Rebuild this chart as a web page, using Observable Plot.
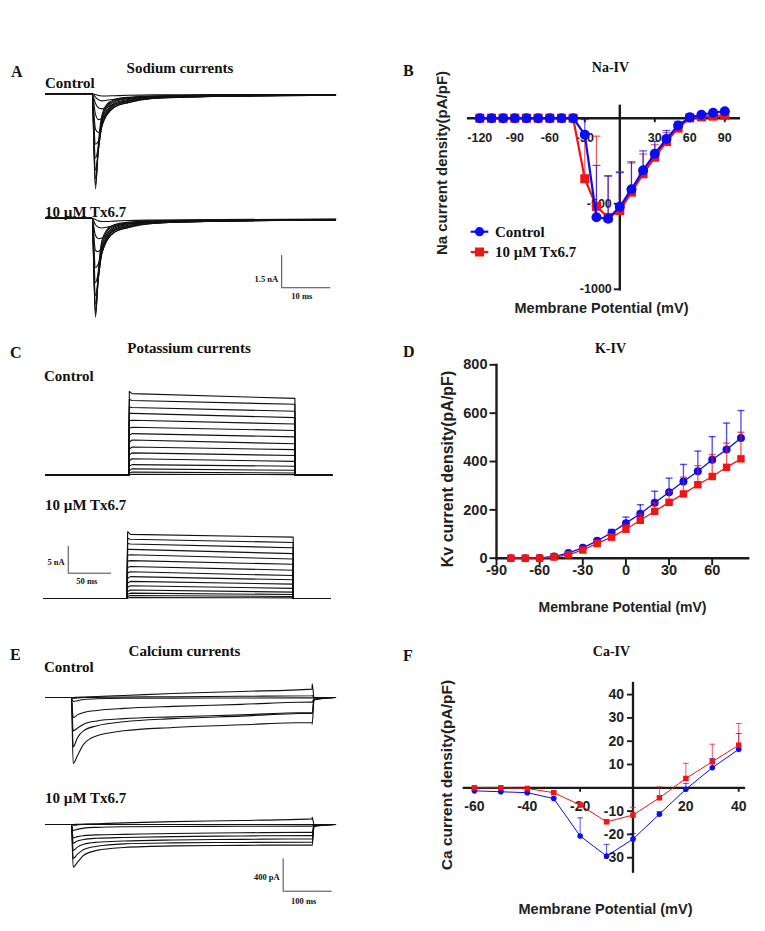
<!DOCTYPE html>
<html><head><meta charset="utf-8">
<script src="https://cdn.jsdelivr.net/npm/d3@7"></script>
<script src="https://cdn.jsdelivr.net/npm/@observablehq/plot@0.6"></script>
<style>
html,body{margin:0;padding:0;background:#fff;}
#fig{position:relative;width:765px;height:931px;overflow:hidden;background:#fff;}
</style></head>
<body><div id="fig"></div>
<script>
// ===================== DATA =====================
// --- B: Na I-V (pA/pF) ---
const naVoltage = [-120,-110,-100,-90,-80,-70,-60,-50,-40,-30,-20,-10,0,10,20,30,40,50,60,70,80,90];
const naControl    = [0,0,0,0,0,0,0,0,0,-96,-579,-588,-518,-415,-304,-208,-121,-43,5,20,32,41];
const naControlSem = [0,0,0,0,0,0,0,0,0,88,303,249,200,160,113,72,49,24,5,5,5,5];
const naTx         = [0,0,0,0,0,0,0,0,0,-354,-515,-580,-540,-432,-325,-228,-137,-58,2,8,12,18];
const naTxSem      = [0,0,0,0,0,0,0,0,0,250,410,245,228,170,116,73,52,25,4,4,4,4];
const naXTicks = [-120,-90,-60,-30,30,60,90];
const naYTicks = [-500,-1000];

// --- D: K I-V (pA/pF) ---
const kVoltage = [-80,-70,-60,-50,-40,-30,-20,-10,0,10,20,30,40,50,60,70,80];
const kControl    = [0,0,1,7,22,43,72,105,145,184,229,273,317,360,407,450,497];
const kControlSem = [0,0,0,1,3,5,8,14,25,37,48,58,71,83,96,109,114];
const kTx         = [0,0,0,5,14,34,61,87,120,157,194,231,266,304,338,376,411];
const kTxSem      = [0,0,0,1,2,4,6,10,18,25,35,45,69,79,91,100,110];
const kXTicks = [-90,-60,-30,0,30,60];
const kYTicks = [0,200,400,600,800];

// --- F: Ca I-V (pA/pF) ---
const caVoltage = [-60,-50,-40,-30,-20,-10,0,10,20,30,40];
const caControl    = [-1.3,-1.7,-2.1,-4.6,-20.7,-29.3,-22.0,-11.3,-0.6,8.6,16.5];
const caControlSem = [0.3,0.3,0.3,0.5,7.8,5.0,2.4,1.0,2.5,4.0,6.8];
const caTx         = [0,0,-0.3,-2.1,-7.4,-14.6,-11.7,-4.3,4.0,11.2,18.3];
const caTxSem      = [0.2,0.2,0.2,0.4,1.0,1.0,3.3,4.7,6.5,7.5,9.3];
const caXTicks = [-60,-40,-20,20,40];
const caXTickMarks = [-60,-40,-20,0,20,40];
const caYTicks = [-30,-20,-10,10,20,30,40];

// --- A: sodium current traces (ms, nA) ---
const naTraceTime = [0,9.5,10.2,10.8,11.5,12.5,14,17,22,35,59.2];
const naTracesControl = [
  [0,0,-4.42,-2.3,-1.0,-0.5,-0.28,-0.16,-0.1,-0.06,-0.03],
  [0,0,-4.25,-2.5,-1.15,-0.58,-0.32,-0.19,-0.12,-0.07,-0.04],
  [0,0,-3.95,-2.6,-1.3,-0.68,-0.38,-0.22,-0.13,-0.08,-0.05],
  [0,0,-3.55,-2.6,-1.42,-0.78,-0.44,-0.26,-0.15,-0.09,-0.05],
  [0,0,-3.0,-2.45,-1.5,-0.88,-0.5,-0.3,-0.17,-0.1,-0.06],
  [0,0,-2.35,-2.2,-1.52,-0.95,-0.56,-0.35,-0.19,-0.11,-0.06],
  [0,0,-1.65,-1.8,-1.45,-1.0,-0.64,-0.4,-0.21,-0.12,-0.07],
  [0,0,-0.95,-1.2,-1.15,-0.9,-0.62,-0.4,-0.22,-0.12,-0.07],
  [0,0,-0.45,-0.65,-0.7,-0.62,-0.48,-0.32,-0.19,-0.11,-0.06],
  [0,0,-0.15,-0.28,-0.33,-0.3,-0.25,-0.18,-0.12,-0.07,-0.05],
  [0,0,-0.03,-0.08,-0.1,-0.1,-0.09,-0.07,-0.05,-0.04,-0.03]
];
const naTracesTx = [
  [0,0,-4.6,-2.4,-1.05,-0.55,-0.3,-0.18,-0.12,-0.08,-0.05],
  [0,0,-4.5,-2.6,-1.2,-0.62,-0.35,-0.21,-0.13,-0.09,-0.06],
  [0,0,-4.3,-2.75,-1.35,-0.72,-0.4,-0.24,-0.15,-0.1,-0.06],
  [0,0,-4.0,-2.8,-1.5,-0.82,-0.46,-0.28,-0.17,-0.11,-0.07],
  [0,0,-3.6,-2.7,-1.6,-0.92,-0.52,-0.32,-0.19,-0.12,-0.07],
  [0,0,-3.0,-2.5,-1.65,-1.0,-0.58,-0.36,-0.21,-0.13,-0.08],
  [0,0,-2.3,-2.1,-1.6,-1.05,-0.65,-0.41,-0.23,-0.14,-0.08],
  [0,0,-1.5,-1.55,-1.35,-1.0,-0.66,-0.43,-0.24,-0.14,-0.08],
  [0,0,-0.8,-0.95,-0.92,-0.78,-0.56,-0.38,-0.22,-0.13,-0.07],
  [0,0,-0.3,-0.42,-0.45,-0.42,-0.34,-0.25,-0.16,-0.1,-0.06],
  [0,0,-0.06,-0.12,-0.15,-0.15,-0.13,-0.1,-0.08,-0.06,-0.04]
];

// --- C: potassium current traces (ms, nA) ---
const kTraceTime = [0,96,96.8,100,288,288,331];
const kCtrlPeak  = [15.7,14.2,12.8,11.6,10.2,8.8,7.5,6.2,4.9,3.8,2.7,1.7,0.9,0.4,0.1];
const kCtrlStart = [15.3,14.0,12.7,11.6,10.3,9.0,7.8,6.6,5.3,4.2,3.1,2.0,1.2,0.6,0.2];
const kCtrlEnd   = [14.4,13.3,12.0,10.8,9.6,8.4,7.2,5.9,4.8,3.7,2.6,1.7,0.94,0.44,0.12];
const kTxPeak    = [12.5,11.3,10.3,9.2,8.1,7.0,5.8,4.8,3.8,2.9,2.1,1.3,0.8,0.4,0.1];
const kTxStart   = [12.0,11.1,10.2,9.2,8.2,7.1,6.0,5.0,4.1,3.2,2.4,1.6,1.0,0.56,0.18];
const kTxEnd     = [11.5,10.5,9.5,8.4,7.4,6.4,5.3,4.3,3.5,2.7,1.9,1.2,0.75,0.37,0.12];

// --- E: calcium current traces (ms, pA) ---
const caTraceTime = [0,52.9,56.5,65,78,105,160,260,400,544,544.3,548,592];
const caTracesControl = [
  [0,0,-817,-722,-577,-474,-412,-371,-338,-309,-330,-30,0],
  [0,0,-612,-500,-410,-350,-300,-262,-230,-195,-200,-25,0],
  [0,0,-413,-380,-330,-290,-262,-240,-215,-186,-190,-20,0],
  [0,0,-248,-215,-185,-160,-135,-110,-85,-55,-60,-10,0],
  [0,0,-50,-40,-25,-15,-10,-8,-6,-5,-5,0,0],
  [0,0,-10,-5,0,2,5,10,15,21,25,0,0],
  [0,0,0,3,6,12,25,50,75,104,170,0,0]
];
const caTracesTx = [
  [0,0,-528,-470,-380,-320,-285,-265,-258,-252,-260,-25,0],
  [0,0,-420,-370,-310,-270,-240,-228,-222,-219,-225,-20,0],
  [0,0,-320,-280,-245,-220,-205,-192,-184,-177,-180,-15,0],
  [0,0,-230,-205,-185,-170,-160,-150,-142,-136,-140,-10,0],
  [0,0,-165,-150,-138,-128,-122,-112,-103,-95,-100,-8,0],
  [0,0,-74,-60,-45,-35,-28,-25,-22,-20,-20,0,0],
  [0,0,-10,-5,0,0,0,0,0,0,0,0,0],
  [0,0,0,2,5,10,20,35,50,70,90,0,0]
];

// scale bar sizes
const naBar = {dt: 10, di: 1.5, tLabel: "10 ms", iLabel: "1.5 nA"};
const kBar  = {dt: 50, di: 5, tLabel: "50 ms", iLabel: "5 nA"};
const caBar = {dt: 100, di: 400, tLabel: "100 ms", iLabel: "400 pA"};

// ===================== DRAWING =====================
const serif = "'Liberation Serif','Times New Roman',serif";
const sans = "'Liberation Sans',Arial,sans-serif";
const BLUE = "#0c0cf0", RED = "#f01414", AXIS = "#1a1a1a";
const fig = document.getElementById("fig");
function place(svg, left, top) {
  svg.style.position = "absolute";
  svg.style.left = left + "px";
  svg.style.top = top + "px";
  fig.appendChild(svg);
}

function tracePlot(o) {
  const [L, T, R, B] = o.box;
  const xd = [(L - o.tx) / o.ppt, (R - o.tx) / o.ppt];
  const yd = [(o.iy - B) / o.ppi, (o.iy - T) / o.ppi];
  const data = o.rows.flatMap((row, k) => o.time.map((t, j) => ({t, i: row[j], k})));
  const marks = [Plot.line(data, {x: "t", y: "i", z: "k", stroke: "#111", strokeWidth: 1.1, curve: o.curve})];
  if (o.bar) {
    const b = {...o.bar, t: o.barAt[0], i: o.barAt[1]};
    const st = {stroke: "#444", strokeWidth: 1};
    marks.push(Plot.ruleX([b], {x: "t", y1: "i", y2: d => d.i + d.di, ...st}));
    marks.push(Plot.ruleY([b], {y: "i", x1: "t", x2: d => d.t + d.dt, ...st}));
    const f = {fontFamily: serif, fontWeight: "bold", fontSize: 8.5, fill: "#111"};
    marks.push(Plot.text([b], {x: "t", y: d => d.i + d.di * o.barLabelFrac[0], text: "iLabel", textAnchor: "end", dx: -3.5, ...f}));
    marks.push(Plot.text([b], {x: d => d.t + d.dt * o.barLabelFrac[1], y: "i", text: "tLabel", dy: o.barLabelDy, ...f}));
  }
  const svg = Plot.plot({
    width: R - L, height: B - T, margin: 0,
    x: {domain: xd, axis: null}, y: {domain: yd, axis: null},
    style: {background: "transparent", overflow: "visible"},
    marks
  });
  place(svg, L, T);
}

function ivPlot(o) {
  const [L, T, R, B] = o.box;
  const xd = [o.xv + (L - o.xp) / o.xppu, o.xv + (R - o.xp) / o.xppu];
  const yd = [o.yv + (o.yp - B) / o.yppu, o.yv + (o.yp - T) / o.yppu];
  const ax = o.axes;
  const tf = {fontFamily: sans, fontWeight: "bold", fontSize: o.tickFont, fill: "#222"};
  const ls = {stroke: AXIS, strokeWidth: o.axisWidth};
  const marks = [
    Plot.text(o.xTicks, {x: d => d, y: () => ax.xAt, text: d => String(d), dy: o.xLabelDy, ...tf}),
    Plot.text(o.yTicks, {x: () => ax.yAt, y: d => d, text: d => String(d), dx: o.yLabelDx, textAnchor: "end", ...tf}),
    Plot.link(o.xTickMarks, {x1: d => d, x2: d => d, y1: () => ax.xAt, y2: () => ax.xAt - o.xTickLen / o.yppu, stroke: AXIS, strokeWidth: o.axisWidth * 0.8}),
    Plot.link(o.yTickMarks, {y1: d => d, y2: d => d, x1: () => ax.yAt, x2: () => ax.yAt - o.yTickLen / o.xppu, stroke: AXIS, strokeWidth: o.axisWidth * 0.8}),
    Plot.link([ax], {x1: d => d.x1, x2: d => d.x2, y1: d => d.xAt, y2: d => d.xAt, ...ls, strokeLinecap: "square"}),
    Plot.link([ax], {x1: d => d.yAt, x2: d => d.yAt, y1: d => d.y1, y2: d => d.y2, ...ls, strokeLinecap: "square"})
  ];
  for (const s of o.series) {
    const data = s.v.map((v, k) => ({v, m: s.m[k], e: s.e[k]}));
    const eb = data.filter(d => d.e > 0);
    const es = {stroke: s.color, strokeOpacity: 0.7, strokeWidth: o.errWidth};
    marks.push(Plot.ruleX(eb, {x: "v", y1: "m", y2: d => d.m + d.e, ...es}));
    marks.push(Plot.link(eb, {x1: d => d.v - o.capHalf / o.xppu, x2: d => d.v + o.capHalf / o.xppu, y1: d => d.m + d.e, y2: d => d.m + d.e, ...es}));
    marks.push(Plot.line(data, {x: "v", y: "m", stroke: s.color, strokeWidth: o.lineWidth}));
    marks.push(Plot.dot(data, {x: "v", y: "m", r: s.symbol === "square" ? o.sqR : o.r, symbol: s.symbol, fill: s.color}));
  }
  const svg = Plot.plot({
    width: R - L, height: B - T, margin: 0,
    x: {domain: xd, axis: null}, y: {domain: yd, axis: null},
    style: {background: "transparent", overflow: "visible"},
    marks
  });
  place(svg, L, T);
}

// ---- A ----
tracePlot({box: [40, 80, 340, 200], tx: 45, ppt: 4.9, iy: 93.3, ppi: 21.5, time: naTraceTime, rows: naTracesControl, curve: "monotone-x"});
tracePlot({box: [40, 205, 340, 320], tx: 45, ppt: 4.9, iy: 217.8, ppi: 21.5, time: naTraceTime, rows: naTracesTx, curve: "monotone-x",
  bar: naBar, barAt: [48.2, -3.23], barLabelFrac: [0.26, 0.41], barLabelDy: 9});

// ---- C ----
const kRowsCtrl = kCtrlStart.map((s, k) => [0, 0, kCtrlPeak[k], s, kCtrlEnd[k], 0, 0]);
const kRowsTx = kTxStart.map((s, k) => [0, 0, kTxPeak[k], s, kTxEnd[k], 0, 0]);
tracePlot({box: [40, 385, 340, 482], tx: 45, ppt: 0.866, iy: 474.8, ppi: 5.34, time: kTraceTime, rows: kRowsCtrl, curve: "linear"});
tracePlot({box: [40, 520, 340, 603], tx: 43.3, ppt: 0.866, iy: 598, ppi: 5.34, time: kTraceTime, rows: kRowsTx, curve: "linear",
  bar: kBar, barAt: [28.2, 4.74], barLabelFrac: [0.41, 0.43], barLabelDy: 8});

// ---- E ----
tracePlot({box: [40, 675, 340, 775], tx: 45, ppt: 0.49, iy: 697, ppi: 0.0808, time: caTraceTime, rows: caTracesControl, curve: "monotone-x"});
tracePlot({box: [40, 800, 340, 910], tx: 45, ppt: 0.49, iy: 824, ppi: 0.0808, time: caTraceTime, rows: caTracesTx, curve: "monotone-x",
  bar: caBar, barAt: [485, -825.5], barLabelFrac: [0.43, 0.42], barLabelDy: 10});

// ---- B ----
ivPlot({box: [455, 95, 745, 300], xp: 619.3, xv: 0, xppu: 1.1667, yp: 117.7, yv: 0, yppu: 0.1711,
  axes: {xAt: 0, x1: -130, x2: 102, yAt: 0, y1: -1000, y2: 72},
  xTicks: naXTicks, xTickMarks: naXTicks, yTicks: naYTicks, yTickMarks: naYTicks,
  xTickLen: 4, yTickLen: 6, xLabelDy: 19.5, yLabelDx: -8, tickFont: 12.5, axisWidth: 2.4,
  lineWidth: 2.2, r: 5, sqR: 5.1, errWidth: 1.2, capHalf: 4,
  series: [
    {v: naVoltage, m: naTx, e: naTxSem, color: RED, symbol: "square"},
    {v: naVoltage, m: naControl, e: naControlSem, color: BLUE, symbol: "circle"}
  ]});

// ---- D ----
ivPlot({box: [470, 358, 750, 585], xp: 496, xv: -90, xppu: 1.438, yp: 557.7, yv: 0, yppu: 0.2417,
  axes: {xAt: 0, x1: -90, x2: 85, yAt: -90, y1: 0, y2: 800},
  xTicks: kXTicks, xTickMarks: kXTicks, yTicks: kYTicks, yTickMarks: kYTicks,
  xTickLen: 7, yTickLen: 7, xLabelDy: 12.5, yLabelDx: -9, tickFont: 14.5, axisWidth: 2.4,
  lineWidth: 1.3, r: 4, sqR: 4.2, errWidth: 1.4, capHalf: 3.5,
  series: [
    {v: kVoltage, m: kControl, e: kControlSem, color: BLUE, symbol: "circle"},
    {v: kVoltage, m: kTx, e: kTxSem, color: RED, symbol: "square"}
  ]});

// ---- F ----
ivPlot({box: [455, 675, 750, 880], xp: 632.5, xv: 0, xppu: 2.643, yp: 787.3, yv: 0, yppu: 2.33,
  axes: {xAt: 0, x1: -64, x2: 42, yAt: 0, y1: -36, y2: 45},
  xTicks: caXTicks, xTickMarks: caXTickMarks, yTicks: caYTicks, yTickMarks: caYTicks,
  xTickLen: 4, yTickLen: 6, xLabelDy: 18.4, yLabelDx: -9, tickFont: 14, axisWidth: 2.3,
  lineWidth: 1, r: 2.8, sqR: 3.1, errWidth: 1, capHalf: 3,
  series: [
    {v: caVoltage, m: caControl, e: caControlSem, color: BLUE, symbol: "circle"},
    {v: caVoltage, m: caTx, e: caTxSem, color: RED, symbol: "square"}
  ]});

// ---- annotations ----
const ov = d3.create("svg").attr("width", 765).attr("height", 931)
  .style("position", "absolute").style("left", "0px").style("top", "0px").style("pointer-events", "none");
function txt(s, x, y, o = {}) {
  const t = ov.append("text").attr("x", x).attr("y", y).text(s)
    .attr("font-family", o.family || serif).attr("font-weight", "bold")
    .attr("font-size", o.size || 15).attr("fill", o.fill || "#111")
    .attr("text-anchor", o.anchor || "start");
  if (o.rotate) t.attr("x", 0).attr("y", 0).attr("transform", `translate(${x},${y}) rotate(-90)`);
  return t;
}
[["A", 11, 77], ["B", 403, 76], ["C", 10, 358], ["D", 403, 357], ["E", 10, 660], ["F", 403, 661]]
  .forEach(([s, x, y]) => txt(s, x, y, {size: 16}));
[["Sodium currents", 180, 72.5], ["Potassium currents", 189, 352.5], ["Calcium currents", 184.5, 656]]
  .forEach(([s, x, y]) => txt(s, x, y, {size: 15, anchor: "middle"}));
[["Na-IV", 610.5, 71.5], ["K-IV", 610.5, 353], ["Ca-IV", 611.5, 655.5]]
  .forEach(([s, x, y]) => txt(s, x, y, {size: 14, anchor: "middle"}));
[["Control", 45, 87.5], ["10 µM Tx6.7", 45, 217], ["Control", 44, 380.5], ["10 µM Tx6.7", 45, 510],
 ["Control", 44, 671.5], ["10 µM Tx6.7", 45, 802.5]]
  .forEach(([s, x, y]) => txt(s, x, y, {size: 15}));
const xTitle = "Membrane Potential (mV)";
txt(xTitle, 601.5, 313, {family: sans, size: 14.5, anchor: "middle", fill: "#222"});
txt(xTitle, 622.5, 611.7, {family: sans, size: 14, anchor: "middle", fill: "#222"});
txt(xTitle, 605.5, 914, {family: sans, size: 14.5, anchor: "middle", fill: "#222"});
txt("Na current density(pA/pF)", 447, 163, {family: sans, size: 15, anchor: "middle", fill: "#222", rotate: true});
txt("Kv current density(pA/pF)", 453.3, 469, {family: sans, size: 16, anchor: "middle", fill: "#222", rotate: true});
txt("Ca current density(pA/pF)", 451.7, 775, {family: sans, size: 15.5, anchor: "middle", fill: "#222", rotate: true});
// legend for B
ov.append("line").attr("x1", 470.7).attr("x2", 488.3).attr("y1", 231.7).attr("y2", 231.7).attr("stroke", BLUE).attr("stroke-width", 2.2);
ov.append("circle").attr("cx", 479.5).attr("cy", 231.7).attr("r", 4.6).attr("fill", BLUE);
ov.append("line").attr("x1", 470.7).attr("x2", 488.3).attr("y1", 252).attr("y2", 252).attr("stroke", RED).attr("stroke-width", 2.2);
ov.append("rect").attr("x", 475).attr("y", 247.5).attr("width", 9).attr("height", 9).attr("fill", RED);
txt("Control", 495, 236.5, {size: 15});
txt("10 µM Tx6.7", 495, 257, {size: 15});
fig.appendChild(ov.node());
</script>
</body></html>
